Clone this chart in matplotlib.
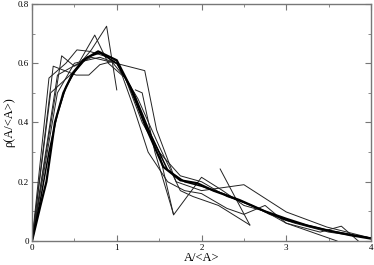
import matplotlib
matplotlib.use("Agg")
import matplotlib.pyplot as plt

# averaged (thick) curves
mean_x = [0, 0.1, 0.17, 0.27, 0.37, 0.47, 0.6, 0.78, 1.0, 1.16, 1.35, 1.55, 1.75, 1.95, 2.14, 2.45, 2.75, 3.0, 3.25, 3.5, 3.75, 4.0]
mean_y = [0, 0.12, 0.2, 0.4, 0.5, 0.56, 0.61, 0.64, 0.61, 0.52, 0.38, 0.25, 0.205, 0.195, 0.17, 0.138, 0.1, 0.075, 0.052, 0.035, 0.02, 0.008]
fit_x = [0, 0.1, 0.2, 0.3, 0.4, 0.5, 0.65, 0.8, 1.0, 1.2, 1.4, 1.6, 1.8, 2.0, 2.25, 2.5, 2.75, 3.0, 3.5, 4.0]
fit_y = [0, 0.14, 0.3, 0.43, 0.52, 0.57, 0.62, 0.635, 0.6, 0.5, 0.36, 0.24, 0.2, 0.185, 0.16, 0.13, 0.1, 0.07, 0.035, 0.01]

# individual samples (thin lines)
s1_x = [0, 0.22, 0.45, 0.7, 0.88, 1.0]
s1_y = [0, 0.5, 0.56, 0.645, 0.725, 0.51]
s2_x = [0, 0.3, 0.55, 0.74, 0.9, 1.1, 1.3, 1.5, 1.67, 1.83, 2.0, 2.25, 2.5, 2.75, 3.0, 3.3, 3.6]
s2_y = [0, 0.56, 0.6, 0.695, 0.6, 0.55, 0.42, 0.3, 0.088, 0.15, 0.215, 0.17, 0.12, 0.1, 0.06, 0.03, 0.0]
s3_x = [0, 0.35, 0.5, 0.7, 0.92, 1.33, 1.47, 1.7, 2.0, 2.5, 3.0, 3.48, 4.0]
s3_y = [0, 0.625, 0.59, 0.62, 0.605, 0.575, 0.375, 0.2, 0.17, 0.19, 0.098, 0.047, 0.01]
s4_x = [0, 0.25, 0.52, 0.67, 0.8, 1.0, 1.2, 1.37, 1.6, 1.8, 2.0, 2.3, 2.5, 2.75, 3.0, 3.4, 3.65, 3.85]
s4_y = [0, 0.59, 0.56, 0.56, 0.595, 0.61, 0.45, 0.3, 0.2, 0.17, 0.16, 0.11, 0.09, 0.12, 0.06, 0.03, 0.05, 0.0]
s5_x = [0, 0.2, 0.4, 0.53, 0.68, 0.9, 1.1, 1.3, 1.5, 1.75, 2.0, 2.3, 2.6, 2.8, 3.1, 3.5, 4.0]
s5_y = [0, 0.55, 0.6, 0.645, 0.64, 0.62, 0.55, 0.4, 0.3, 0.22, 0.2, 0.15, 0.12, 0.09, 0.06, 0.03, 0.01]
s6_x = [1.22, 1.3, 1.45, 1.67]
s6_y = [0.51, 0.5, 0.3, 0.09]
s7_x = [0, 0.3, 0.5, 0.8, 1.0, 1.25, 1.5, 1.75, 1.9, 2.2, 2.57]
s7_y = [0, 0.5, 0.6, 0.62, 0.6, 0.48, 0.32, 0.17, 0.15, 0.12, 0.054]
s8_x = [2.22, 2.57]
s8_y = [0.243, 0.054]

x_ticks = [0, 1, 2, 3, 4]
y_ticks = [0, 0.2, 0.4, 0.6, 0.8]
y_labels = ['0', '0.2', '0.4', '0.6', '0.8']

plt.rcParams['font.family'] = ['Liberation Serif', 'DejaVu Serif']
fig = plt.figure(figsize=(3.74, 2.65), dpi=100)
ax = fig.add_axes([0.0856, 0.0906, 0.9064, 0.8944])

thin = [(s1_x, s1_y), (s2_x, s2_y), (s3_x, s3_y), (s4_x, s4_y),
        (s5_x, s5_y), (s6_x, s6_y), (s7_x, s7_y), (s8_x, s8_y)]
for xs, ys in thin:
    ax.plot(xs, ys, color='#222222', lw=0.7)
ax.plot(fit_x, fit_y, color='black', lw=1.1)
ax.plot(mean_x, mean_y, color='black', lw=1.6)

ax.set_xlim(0, 4)
ax.set_ylim(0, 0.8)
ax.set_xticks(x_ticks)
ax.set_xticklabels([str(t) for t in x_ticks])
ax.set_xticks([0.5, 1.5, 2.5, 3.5], minor=True)
ax.set_yticks(y_ticks)
ax.set_yticklabels(y_labels)
ax.set_yticks([0.1, 0.3, 0.5, 0.7], minor=True)
ax.tick_params(which='both', direction='in', top=True, right=True,
               labelsize=6.5, color='#777777', pad=2)
ax.tick_params(which='major', length=4)
ax.tick_params(which='minor', length=2)
for sp in ax.spines.values():
    sp.set_color('#777777')
    sp.set_linewidth(1.0)

ax.set_xlabel('A/<A>', fontsize=9, labelpad=0)
ax.set_ylabel('ρ(A/<A>)', fontsize=9, labelpad=2)

fig.savefig('out.png', dpi=100)
